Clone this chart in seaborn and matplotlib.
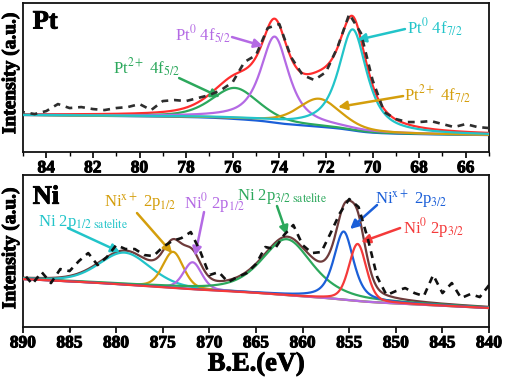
import numpy as np
import matplotlib
matplotlib.use("Agg")
import matplotlib.pyplot as plt
import matplotlib.patheffects as pe
import seaborn as sns

pt_be = [85.0, 84.5, 84.0, 83.5, 83.0, 82.5, 82.0, 81.5, 81.0, 80.5, 80.0,
         79.5, 79.0, 78.5, 78.0, 77.5, 77.0, 76.5, 76.0, 75.5, 75.0,
         74.5, 74.0, 73.5, 73.0, 72.5, 72.0, 71.5, 71.0, 70.5, 70.0,
         69.5, 69.0, 68.5, 68.0, 67.5, 67.0, 66.5, 66.0, 65.5, 65.0]
pt_counts = [40, 38, 41, 48, 44, 45, 43, 42, 44, 45, 48,
             42, 51, 52, 51, 54, 57, 62, 70, 90, 97,
             124, 128, 95, 77, 72, 80, 105, 138, 119, 72,
             40, 33, 30, 30, 31, 28, 25, 28, 25, 24]

# Pt fitted components (pseudo-Voigt)
pt_names = ["Pt0 4f7/2", "Pt2+ 4f7/2", "Pt0 4f5/2", "Pt2+ 4f5/2"]
pt_center = [70.85, 72.3, 74.2, 75.9]
pt_height = [101, 28, 86, 31]
pt_fwhm = [1.45, 2.2, 1.45, 2.4]
pt_lorentz = [0.8, 0.5, 0.8, 0.5]
pt_colors = ["#22c4c9", "#d49e0c", "#b46ae4", "#2ca85c"]
pt_bg = (17, 0.2, 16)  # level at low BE, slope, Shirley step

# ---- Ni 2p: measured spectrum ----
ni_be = [890, 889, 888, 887, 886, 885, 884, 883, 882, 881, 880,
         879, 878, 877, 876, 875, 874, 873, 872, 871, 870,
         869, 868, 867, 866, 865, 864, 863, 862, 861, 860,
         859, 858, 857, 856, 855, 854, 853, 852, 851, 850,
         849, 848, 847, 846, 845, 844, 843, 842, 841, 840]
ni_counts = [54, 43, 55, 44, 58, 56, 66, 74, 62, 70, 82,
             78, 78, 72, 71, 80, 86, 89, 95, 76, 52,
             55, 45, 50, 54, 63, 80, 78, 92, 102, 82,
             74, 75, 94, 114, 128, 120, 88, 50, 32, 36,
             39, 34, 31, 52, 34, 44, 29, 33, 30, 42]

ni_names = ["Ni 2p1/2 sat", "Nix+ 2p1/2", "Ni0 2p1/2",
            "Ni 2p3/2 sat", "Nix+ 2p3/2", "Ni0 2p3/2"]
ni_center = [879.1, 873.9, 871.8, 861.7, 855.6, 854.1]
ni_height = [32, 36, 27, 56, 68, 57]
ni_fwhm = [6.5, 2.6, 2.3, 6.5, 2.5, 2.2]
ni_lorentz = [0.3, 0.3, 0.3, 0.6, 0.6, 0.3]
ni_colors = ["#22c4c9", "#d49e0c", "#b46ae4", "#2ca85c", "#1b5fd8", "#f43a3a"]
ni_bg = (19, 0.45, 6.5)

pt_ticks = [84, 82, 80, 78, 76, 74, 72, 70, 68, 66]
ni_ticks = [890, 885, 880, 875, 870, 865, 860, 855, 850, 845, 840]


def pvoigt(e, c, h, w, eta):
    x = (e - c) / w
    return h * (eta / (1 + 4 * x ** 2) + (1 - eta) * np.exp(-4 * np.log(2) * x ** 2))


def fit_curves(e, centers, heights, fwhms, etas, bg):
    peaks = [pvoigt(e, c, h, w, m) for c, h, w, m in zip(centers, heights, fwhms, etas)]
    total = np.sum(peaks, axis=0)
    shirley = np.cumsum(total) / np.sum(total)
    base = bg[0] + bg[1] * (e - e[0]) + bg[2] * shirley
    return base, [base + p for p in peaks], base + total


sns.set_style("ticks")
plt.rcParams["font.family"] = ["Liberation Serif", "DejaVu Serif"]
plt.rcParams["mathtext.fontset"] = "stix"
for key in ["text.color", "axes.labelcolor", "xtick.color", "ytick.color"]:
    plt.rcParams[key] = "black"

fig = plt.figure(figsize=(5.05, 3.83), dpi=100)
ax1 = fig.add_axes([0.0455, 0.603, 0.923, 0.389])
ax2 = fig.add_axes([0.0455, 0.146, 0.923, 0.397])

dash = (0, (2.6, 2.2))
heavy = [pe.withStroke(linewidth=0.7, foreground="black")]

# ---- top panel: Pt ----
e_pt = np.linspace(65, 85, 801)
base, comps, env = fit_curves(e_pt, pt_center, pt_height, pt_fwhm, pt_lorentz, pt_bg)
sns.lineplot(x=e_pt, y=env, ax=ax1, color="#ff2d2d", lw=1.6, zorder=3)
sns.lineplot(x=e_pt, y=base, ax=ax1, color="#1b5fd8", lw=1.6, zorder=3)
for i in [3, 2, 1, 0]:
    sns.lineplot(x=e_pt, y=comps[i], ax=ax1, color=pt_colors[i], lw=1.6, zorder=3)
sns.lineplot(x=pt_be, y=pt_counts, ax=ax1, color="#2e2e2e", lw=1.9,
             linestyle=dash, zorder=4)
ax1.set_xlim(85, 65)
ax1.set_ylim(0, 149)
ax1.set_xticks(pt_ticks, labels=[str(t) for t in pt_ticks])
ax1.set_xticks(range(85, 64, -1), minor=True)

# ---- bottom panel: Ni ----
e_ni = np.linspace(840, 890, 1001)
base, comps, env = fit_curves(e_ni, ni_center, ni_height, ni_fwhm, ni_lorentz, ni_bg)
sns.lineplot(x=e_ni, y=env, ax=ax2, color="#6e3b3b", lw=1.6, zorder=3)
for i in [0, 1, 2, 3, 4, 5]:
    sns.lineplot(x=e_ni, y=comps[i], ax=ax2, color=ni_colors[i], lw=1.6, zorder=3)
sns.lineplot(x=ni_be, y=ni_counts, ax=ax2, color="#111111", lw=1.9,
             linestyle=dash, zorder=4)
ax2.set_xlim(890, 840)
ax2.set_ylim(0, 152)
ax2.set_xticks(ni_ticks, labels=[str(t) for t in ni_ticks])

for ax, tag, ly in [(ax1, "Pt", 0.53), (ax2, "Ni", 0.52)]:
    ax.set_yticks([])
    ax.set_ylabel("Intensity (a.u.)", fontsize=14, fontweight="bold", path_effects=heavy)
    ax.yaxis.set_label_coords(-0.008, ly)
    ax.tick_params(axis="x", which="major", direction="out", length=4, width=1.2,
                   pad=2, labelsize=12.5)
    ax.tick_params(axis="x", which="minor", direction="out", length=3, width=1.0)
    for s in ax.spines.values():
        s.set_linewidth(1.3)
        s.set_color("#111111")
    ax.text(0.021, 0.95 if tag == "Pt" else 0.93, tag, transform=ax.transAxes,
            fontsize=19, fontweight="bold", ha="left", va="top", path_effects=heavy)

ax2.set_xlabel("B.E.(eV)", fontsize=19, fontweight="bold", labelpad=1,
               path_effects=heavy)


def label(ax, text, pos, start, tip, color):
    ax.text(pos[0], pos[1], text, color=color, fontsize=12, ha="center", va="center")
    ax.annotate("", xy=tip, xytext=start,
                arrowprops=dict(arrowstyle="-|>", color=color, lw=1.8,
                                mutation_scale=13, shrinkA=0, shrinkB=0))


label(ax1, r"Pt$^{0}$ 4f$_{5/2}$", (77.27, 117), (76.03, 115), (74.70, 106), pt_colors[2])
label(ax1, r"Pt$^{2+}$ 4f$_{5/2}$", (79.68, 84), (78.30, 74), (76.55, 55), pt_colors[3])
label(ax1, r"Pt$^{0}$ 4f$_{7/2}$", (67.32, 124), (68.61, 123), (70.67, 112), pt_colors[0])
label(ax1, r"Pt$^{2+}$ 4f$_{7/2}$", (67.23, 57), (68.69, 56), (71.48, 45), pt_colors[1])

label(ax2, r"Ni 2p$_{1/2\ \mathrm{satelite}}$", (883.56, 105), (885.17, 99), (879.59, 75), ni_colors[0])
label(ax2, r"Ni$^{\mathrm{x+}}$ 2p$_{1/2}$", (877.45, 124), (877.77, 114), (874.0, 74), ni_colors[1])
label(ax2, r"Ni$^{0}$ 2p$_{1/2}$", (869.5, 124), (870.58, 115), (871.55, 71), ni_colors[2])
label(ax2, r"Ni 2p$_{3/2\ \mathrm{satelite}}$", (862.21, 131), (862.75, 121), (861.67, 92), ni_colors[3])
label(ax2, r"Ni$^{\mathrm{x+}}$ 2p$_{3/2}$", (848.37, 127), (852.02, 122), (854.91, 98), ni_colors[4])
label(ax2, r"Ni$^{0}$ 2p$_{3/2}$", (846.0, 99), (849.55, 99), (853.73, 85), ni_colors[5])

# make the tick numbers heavy once the ticks exist
fig.canvas.draw()
for ax in (ax1, ax2):
    for lab in ax.get_xticklabels():
        lab.set_fontweight("bold")
        lab.set_path_effects(heavy)

fig.savefig("out.png", dpi=100)
